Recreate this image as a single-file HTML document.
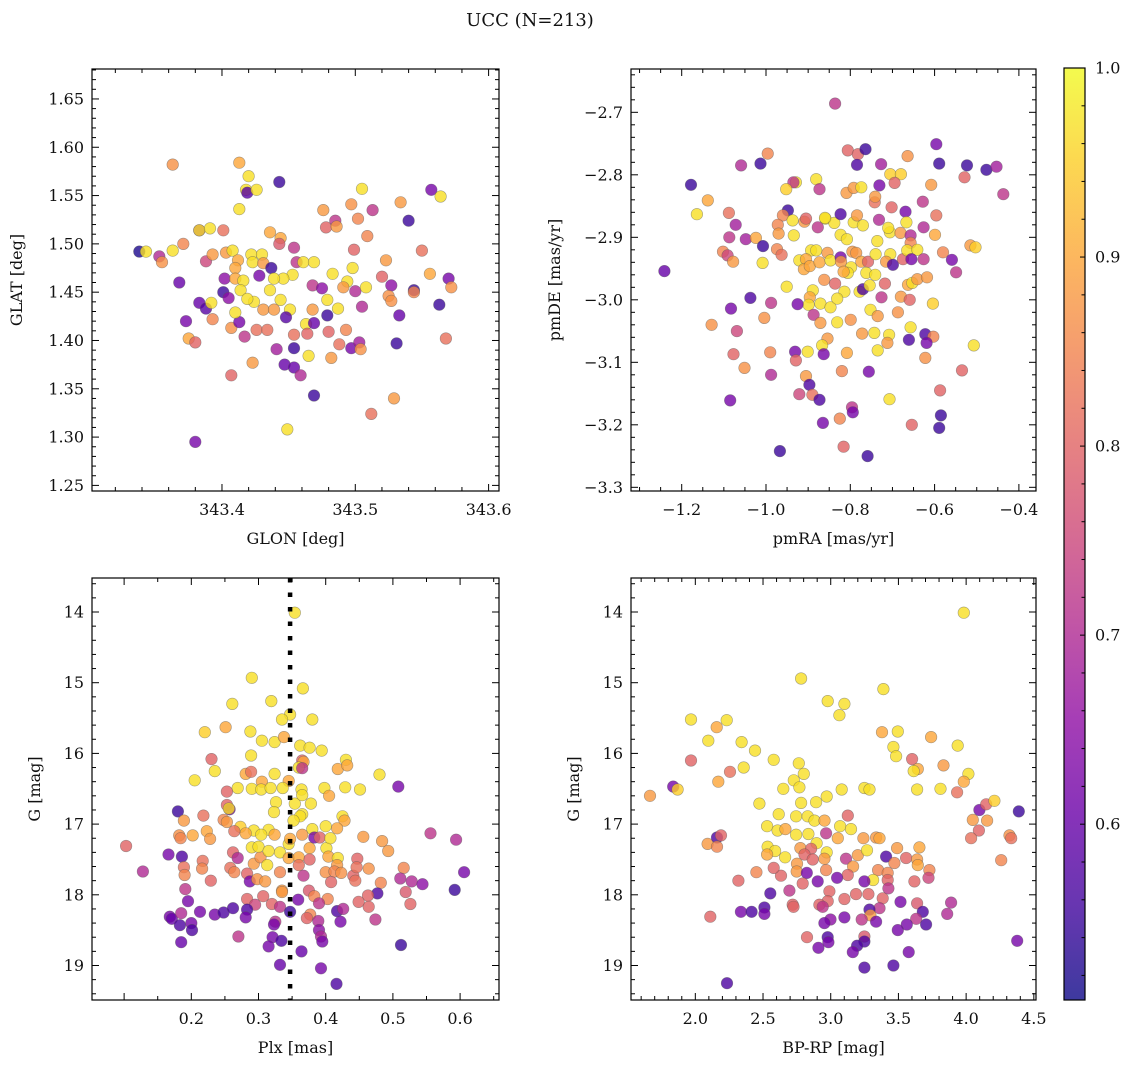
<!DOCTYPE html>
<html><head><meta charset="utf-8"><title>UCC (N=213)</title>
<style>
html,body{margin:0;padding:0;background:#fff;}
svg{display:block;}
text{font-family:"DejaVu Serif","Liberation Serif",serif;fill:#111;}
</style></head>
<body>
<svg id="fig" width="1136" height="1068" xmlns="http://www.w3.org/2000/svg">
<text x="530" y="26" font-size="18" text-anchor="middle">UCC (N=213)</text>
</svg>
<script>
// ---- Panel 1: GLON vs GLAT ----
const tlGlon=[343.338,343.343,343.353,343.355,343.363,343.363,343.371,343.368,343.373,343.375,343.380,343.380,343.383,343.383,343.391,343.401,343.383,343.388,343.392,343.393,343.388,343.393,343.402,343.401,343.405,343.403,343.408,343.412,343.410,343.410,343.413,343.420,343.418,343.419,343.426,343.413,343.407,343.413,343.410,343.417,343.407,343.423,343.416,343.414,343.422,343.430,343.423,343.431,343.428,343.437,343.424,343.419,343.431,343.426,343.434,343.436,343.444,343.443,343.443,343.454,343.456,343.453,343.446,343.439,343.436,343.444,343.439,343.451,343.448,343.454,343.441,343.454,343.447,343.454,343.459,343.449,343.469,343.465,343.463,343.464,343.469,343.461,343.469,343.468,343.475,343.468,343.479,343.479,343.480,343.482,343.488,343.476,343.478,343.485,343.486,343.483,343.494,343.487,343.491,343.493,343.497,343.503,343.504,343.498,343.499,343.500,343.502,343.505,343.497,343.509,343.513,343.505,343.508,343.520,343.523,343.527,343.525,343.527,343.533,343.531,343.529,343.512,343.534,343.540,343.544,343.544,343.550,343.556,343.557,343.564,343.563,343.570,343.572,343.568];
const tlGlat=[1.492,1.492,1.487,1.481,1.582,1.493,1.500,1.460,1.420,1.402,1.398,1.295,1.514,1.514,1.516,1.514,1.439,1.433,1.439,1.422,1.482,1.489,1.464,1.450,1.444,1.491,1.493,1.483,1.475,1.464,1.584,1.570,1.556,1.553,1.556,1.536,1.413,1.419,1.429,1.404,1.364,1.377,1.462,1.452,1.489,1.489,1.481,1.480,1.467,1.475,1.440,1.443,1.432,1.411,1.411,1.512,1.506,1.564,1.500,1.496,1.481,1.468,1.464,1.464,1.452,1.442,1.432,1.432,1.424,1.406,1.391,1.392,1.375,1.372,1.364,1.308,1.343,1.384,1.417,1.407,1.418,1.481,1.481,1.457,1.454,1.432,1.442,1.426,1.409,1.382,1.396,1.535,1.517,1.524,1.518,1.469,1.461,1.433,1.455,1.411,1.392,1.398,1.391,1.475,1.494,1.451,1.526,1.557,1.541,1.508,1.535,1.435,1.455,1.466,1.483,1.457,1.446,1.441,1.426,1.397,1.340,1.324,1.543,1.524,1.452,1.450,1.493,1.469,1.556,1.549,1.437,1.464,1.455,1.402];
const tlProb=[.52,.97,.70,.87,.87,.97,.85,.60,.62,.90,.80,.62,.62,.97,.97,.82,.60,.58,.97,.85,.75,.88,.65,.55,.65,.88,.97,.90,.90,.90,.90,.97,.97,.58,.97,.97,.87,.62,.97,.72,.80,.88,.97,.97,.97,.97,.97,.88,.62,.55,.97,.97,.88,.82,.82,.90,.90,.55,.78,.72,.72,.97,.97,.97,.97,.97,.88,.97,.58,.82,.68,.55,.60,.60,.70,.97,.55,.97,.97,.80,.60,.97,.97,.72,.65,.88,.97,.55,.80,.88,.82,.88,.80,.72,.88,.97,.97,.97,.88,.85,.62,.68,.87,.97,.80,.70,.85,.97,.87,.85,.72,.70,.97,.80,.88,.65,.87,.87,.60,.55,.88,.82,.88,.55,.55,.85,.82,.90,.62,.97,.55,.62,.87,.82];
const tlXTicks=["343.4","343.5","343.6"];
const tlYTicks=["1.25","1.30","1.35","1.40","1.45","1.50","1.55","1.60","1.65"];

// ---- Panel 2: pmRA vs pmDE ----
const trPmra=[-0.836,-1.178,-1.241,-1.164,-1.138,-1.059,-1.013,-0.996,-1.088,-1.072,-1.087,-1.102,-1.091,-1.078,-1.048,-1.024,-1.007,-1.008,-1.129,-1.083,-1.069,-1.037,-0.988,-1.004,-1.077,-1.051,-0.990,-0.988,-1.085,-0.967,-0.929,-0.935,-0.952,-0.881,-0.873,-0.948,-0.960,-0.972,-0.970,-0.974,-0.963,-0.937,-0.934,-0.909,-0.905,-0.877,-0.859,-0.838,-0.823,-0.809,-0.792,-0.774,-0.806,-0.782,-0.764,-0.784,-0.727,-0.731,-0.742,-0.741,-0.705,-0.680,-0.695,-0.664,-0.596,-0.589,-0.608,-0.628,-0.596,-0.523,-0.529,-0.477,-0.453,-0.437,-0.792,-0.770,-0.784,-0.732,-0.702,-0.669,-0.667,-0.706,-0.710,-0.681,-0.657,-0.626,-0.599,-0.736,-0.657,-0.823,-0.808,-0.860,-0.893,-0.881,-0.854,-0.921,-0.905,-0.910,-0.896,-0.873,-0.847,-0.823,-0.822,-0.795,-0.786,-0.798,-0.774,-0.758,-0.740,-0.705,-0.715,-0.699,-0.675,-0.665,-0.641,-0.655,-0.626,-0.580,-0.559,-0.549,-0.515,-0.503,-0.806,-0.816,-0.762,-0.741,-0.718,-0.862,-0.836,-0.814,-0.889,-0.896,-0.871,-0.847,-0.831,-0.899,-0.925,-0.887,-0.871,-0.951,-0.778,-0.770,-0.754,-0.726,-0.680,-0.659,-0.663,-0.653,-0.641,-0.618,-0.604,-0.752,-0.735,-0.687,-0.799,-0.831,-0.743,-0.657,-0.622,-0.603,-0.661,-0.619,-0.507,-0.622,-0.772,-0.708,-0.712,-0.854,-0.867,-0.863,-0.901,-0.931,-0.929,-0.808,-0.735,-0.820,-0.756,-0.905,-0.897,-0.921,-0.890,-0.873,-0.707,-0.796,-0.794,-0.865,-0.825,-0.816,-0.759,-0.654,-0.587,-0.585,-0.589,-0.535];
const trPmde=[-2.686,-2.816,-2.954,-2.863,-2.841,-2.785,-2.782,-2.766,-2.861,-2.880,-2.900,-2.923,-2.929,-2.939,-2.903,-2.901,-2.914,-2.941,-3.040,-3.014,-3.050,-2.997,-3.005,-3.029,-3.087,-3.109,-3.084,-3.120,-3.161,-3.242,-2.812,-2.812,-2.823,-2.807,-2.823,-2.857,-2.865,-2.880,-2.894,-2.919,-2.928,-2.873,-2.897,-2.875,-2.870,-2.884,-2.870,-2.877,-2.863,-2.829,-2.821,-2.820,-2.761,-2.767,-2.759,-2.784,-2.783,-2.817,-2.844,-2.835,-2.799,-2.799,-2.813,-2.770,-2.751,-2.782,-2.816,-2.843,-2.865,-2.785,-2.804,-2.792,-2.787,-2.831,-2.876,-2.881,-2.865,-2.872,-2.852,-2.859,-2.876,-2.892,-2.885,-2.893,-2.897,-2.884,-2.896,-2.906,-2.909,-2.896,-2.903,-2.869,-2.921,-2.921,-2.925,-2.937,-2.935,-2.951,-2.946,-2.940,-2.937,-2.932,-2.939,-2.923,-2.925,-2.948,-2.939,-2.939,-2.927,-2.927,-2.939,-2.944,-2.935,-2.921,-2.920,-2.935,-2.935,-2.924,-2.936,-2.956,-2.913,-2.916,-2.957,-2.955,-2.957,-2.960,-2.974,-2.968,-2.974,-2.987,-2.985,-2.996,-3.006,-3.012,-2.998,-3.008,-3.007,-3.024,-3.037,-2.979,-2.987,-2.983,-2.977,-2.996,-2.995,-3.000,-2.976,-2.973,-2.967,-2.964,-3.006,-3.016,-3.026,-3.020,-3.032,-3.036,-3.053,-3.044,-3.055,-3.059,-3.064,-3.069,-3.073,-3.093,-3.054,-3.056,-3.069,-3.062,-3.073,-3.087,-3.083,-3.083,-3.097,-3.085,-3.081,-3.114,-3.115,-3.122,-3.136,-3.151,-3.152,-3.160,-3.159,-3.172,-3.180,-3.197,-3.190,-3.235,-3.250,-3.200,-3.145,-3.185,-3.205,-3.113];
const trProb=[.72,.55,.60,.97,.90,.70,.55,.85,.82,.68,.72,.85,.75,.88,.68,.90,.55,.97,.87,.62,.75,.57,.72,.87,.80,.87,.85,.70,.62,.55,.97,.72,.95,.97,.72,.55,.85,.85,.88,.85,.82,.97,.97,.88,.80,.72,.97,.97,.57,.88,.88,.97,.80,.80,.55,.57,.68,.62,.82,.88,.95,.95,.80,.87,.62,.55,.88,.72,.82,.55,.80,.55,.68,.72,.97,.97,.88,.70,.80,.62,.97,.97,.97,.88,.70,.70,.90,.97,.85,.97,.97,.97,.97,.97,.88,.97,.90,.90,.90,.90,.97,.62,.88,.88,.88,.97,.90,.80,.97,.97,.88,.57,.80,.97,.97,.62,.72,.85,.62,.72,.88,.95,.97,.90,.97,.97,.80,.87,.80,.97,.97,.90,.97,.97,.97,.97,.62,.72,.88,.97,.97,.57,.97,.72,.88,.80,.90,.97,.88,.88,.95,.97,.88,.87,.87,.97,.97,.97,.57,.85,.57,.62,.97,.87,.88,.97,.88,.88,.97,.62,.97,.62,.80,.90,.97,.85,.62,.88,.57,.75,.82,.57,.97,.72,.62,.62,.85,.80,.55,.80,.80,.55,.55,.80];
const trXTicks=["−1.2","−1.0","−0.8","−0.6","−0.4"];
const trYTicks=["−3.3","−3.2","−3.1","−3.0","−2.9","−2.8","−2.7"];

// ---- Panel 3: Plx vs G ----
const blPlx=[.354,.290,.366,.261,.319,.347,.335,.380,.220,.251,.288,.305,.324,.338,.362,.376,.394,.289,.230,.235,.205,.281,.289,.305,.324,.365,.367,.360,.365,.345,.418,.430,.432,.480,.508,.269,.290,.304,.318,.336,.364,.398,.405,.429,.451,.253,.253,.257,.256,.180,.326,.323,.354,.365,.378,.365,.362,.352,.189,.218,.248,.253,.273,.293,.315,.304,.324,.281,.264,.380,.400,.425,.428,.417,.182,.202,.223,.228,.184,.103,.166,.186,.128,.189,.190,.191,.195,.168,.171,.185,.183,.200,.201,.185,.217,.216,.229,.213,.235,.248,.262,.270,.262,.269,.258,.264,.283,.287,.298,.310,.293,.303,.313,.290,.300,.315,.332,.345,.347,.345,.360,.365,.376,.383,.391,.401,.407,.404,.418,.417,.376,.360,.332,.335,.367,.400,.413,.423,.408,.441,.447,.446,.464,.444,.482,.516,.456,.484,.493,.556,.594,.606,.511,.528,.544,.519,.526,.592,.477,.463,.464,.449,.474,.512,.283,.295,.307,.320,.332,.335,.283,.281,.325,.323,.347,.321,.334,.315,.332,.359,.375,.383,.403,.390,.377,.372,.389,.390,.393,.395,.364,.393,.416,.417,.426,.422];
const blG=[14.01,14.93,15.08,15.30,15.26,15.45,15.52,15.52,15.70,15.63,15.69,15.82,15.84,15.77,15.89,15.92,15.96,16.03,16.08,16.25,16.38,16.29,16.26,16.40,16.29,16.10,16.12,16.20,16.21,16.39,16.22,16.09,16.17,16.30,16.47,16.49,16.50,16.51,16.49,16.49,16.51,16.49,16.60,16.48,16.51,16.54,16.73,16.79,16.78,16.82,16.69,16.83,16.71,16.59,16.71,16.86,16.89,16.95,16.95,16.88,16.94,16.97,17.04,17.09,17.08,17.15,17.15,17.13,17.10,17.07,17.03,16.89,16.95,17.06,17.16,17.16,17.10,17.21,17.20,17.31,17.43,17.46,17.67,17.61,17.72,17.92,18.09,18.31,18.34,18.26,18.43,18.40,18.50,18.67,17.52,17.63,17.80,18.24,18.28,18.25,18.19,18.59,17.40,17.48,17.62,17.68,17.70,17.81,17.78,17.81,17.56,17.47,17.58,17.33,17.32,17.38,17.40,17.28,17.21,17.48,17.47,17.15,17.34,17.19,17.19,17.34,17.20,17.46,17.48,17.58,17.50,17.58,17.68,17.94,17.73,17.68,17.67,17.69,17.82,17.73,17.49,17.61,17.63,17.80,17.83,17.62,17.18,17.24,17.38,17.13,17.22,17.68,17.77,17.81,17.85,17.96,18.13,17.93,17.98,18.01,18.17,18.10,18.35,18.71,18.06,18.14,18.02,18.13,18.17,17.96,18.21,18.32,18.38,18.42,18.24,18.60,18.65,18.73,18.99,18.07,17.94,18.02,18.06,18.12,18.28,18.33,18.37,18.50,18.59,18.66,18.80,19.04,19.26,18.23,18.20,18.38];
const blProb=[.97,.97,.97,.97,.97,.97,.97,.97,.95,.90,.97,.97,.97,.90,.97,.97,.97,.97,.80,.97,.97,.90,.82,.90,.97,.80,.90,.97,.72,.90,.90,.97,.90,.97,.62,.97,.97,.97,.97,.97,.97,.97,.90,.97,.97,.80,.80,.62,.97,.55,.97,.97,.97,.97,.97,.97,.97,.97,.88,.82,.85,.88,.95,.97,.97,.97,.90,.90,.82,.97,.97,.97,.90,.90,.87,.90,.90,.88,.85,.80,.62,.57,.70,.82,.85,.72,.62,.62,.60,.70,.57,.62,.57,.60,.82,.85,.80,.62,.62,.57,.57,.72,.80,.70,.82,.85,.80,.62,.87,.88,.88,.87,.97,.97,.97,.97,.97,.97,.90,.90,.90,.88,.90,.62,.80,.97,.97,.90,.97,.88,.80,.82,.85,.88,.72,.87,.85,.87,.80,.80,.80,.82,.87,.82,.85,.85,.88,.88,.88,.72,.70,.62,.70,.70,.65,.78,.80,.55,.57,.80,.80,.80,.72,.55,.80,.75,.80,.80,.72,.88,.57,.62,.72,.62,.55,.62,.57,.62,.60,.62,.78,.85,.85,.72,.85,.80,.70,.65,.70,.62,.60,.62,.57,.57,.70,.62];
const blXTicks=["0.2","0.3","0.4","0.5","0.6"];
const blPlxMedian=[0.347];

// ---- Panel 4: BP-RP vs G ----
const brBpRp=[3.983,2.781,3.389,2.978,3.101,3.064,1.968,2.232,2.158,2.096,2.342,2.441,2.579,2.357,1.968,2.256,2.170,1.837,1.869,1.665,3.379,3.495,3.463,3.483,3.741,3.938,3.601,3.643,3.613,3.833,4.017,3.983,3.933,3.638,3.811,2.764,2.801,2.727,2.769,2.650,3.081,3.249,3.286,2.473,2.616,2.781,2.892,2.970,2.744,2.830,2.880,2.954,3.126,3.069,3.150,2.966,3.052,2.530,2.608,2.665,2.744,2.835,2.896,2.970,2.534,2.589,2.663,2.530,2.776,2.855,2.806,2.867,2.953,2.751,2.749,3.113,3.200,3.241,3.268,3.335,3.360,3.409,3.490,3.655,3.557,3.638,3.643,3.470,3.350,3.165,3.313,3.421,3.729,3.722,3.618,3.421,3.249,3.126,3.047,2.966,2.904,2.823,2.793,2.633,2.579,2.451,2.318,2.554,2.695,2.719,2.725,2.990,2.978,2.916,3.101,3.187,3.278,3.384,3.426,3.515,3.638,3.889,3.860,3.680,3.631,3.704,3.562,3.495,3.360,3.286,3.293,3.335,3.229,3.101,2.998,2.953,2.941,2.825,2.978,2.983,2.909,3.249,3.249,3.195,3.163,3.576,3.249,3.463,2.234,2.111,2.337,2.416,2.510,2.510,2.091,2.160,2.190,2.160,4.098,4.148,4.209,4.049,4.155,4.094,4.037,4.389,4.320,4.333,4.259,4.377];
const brG=[14.01,14.94,15.09,15.26,15.30,15.46,15.52,15.53,15.63,15.82,15.84,15.96,16.09,16.20,16.10,16.26,16.40,16.47,16.51,16.60,15.70,15.69,15.91,16.04,15.77,15.89,16.08,16.22,16.25,16.17,16.29,16.40,16.55,16.51,16.50,16.14,16.29,16.38,16.48,16.50,16.51,16.49,16.51,16.71,16.86,16.70,16.69,16.61,16.89,16.89,16.95,16.95,16.88,17.03,17.07,17.13,17.20,17.03,17.09,17.07,17.15,17.14,17.27,17.40,17.32,17.38,17.47,17.43,17.34,17.35,17.43,17.50,17.49,17.56,17.67,17.49,17.44,17.20,17.37,17.19,17.20,17.46,17.34,17.33,17.48,17.50,17.58,17.55,17.65,17.60,17.79,17.69,17.65,17.76,17.81,17.79,17.81,17.72,17.76,17.65,17.81,17.69,17.84,17.73,17.62,17.68,17.80,17.98,17.94,18.14,18.17,17.95,18.09,18.14,18.06,17.99,17.99,18.05,17.91,18.10,18.12,18.11,18.27,18.24,18.34,18.42,18.42,18.50,18.19,18.21,18.29,18.38,18.35,18.32,18.35,18.40,18.17,18.60,18.60,18.67,18.75,18.59,18.66,18.72,18.81,18.81,19.03,19.00,19.25,18.31,18.24,18.24,18.18,18.27,17.28,17.19,17.16,17.32,16.80,16.72,16.67,16.94,16.95,17.09,17.20,16.82,17.16,17.20,17.51,18.65];
const brProb=[.97,.97,.97,.97,.97,.97,.97,.97,.90,.97,.97,.97,.97,.97,.80,.82,.90,.62,.95,.88,.90,.97,.97,.97,.90,.97,.80,.90,.97,.88,.97,.90,.82,.97,.97,.97,.97,.97,.97,.97,.97,.97,.97,.97,.97,.97,.97,.97,.97,.97,.97,.90,.80,.97,.97,.72,.90,.97,.97,.90,.97,.97,.97,.97,.97,.97,.97,.90,.88,.80,.80,.80,.88,.88,.88,.72,.88,.88,.97,.88,.90,.57,.88,.90,.80,.88,.90,.85,.85,.88,.97,.85,.85,.75,.80,.80,.62,.80,.62,.85,.62,.62,.80,.80,.80,.85,.80,.57,.72,.80,.80,.80,.80,.80,.80,.80,.80,.80,.72,.62,.78,.70,.70,.57,.72,.57,.62,.62,.72,.57,.88,.62,.72,.62,.65,.62,.72,.80,.57,.62,.62,.78,.57,.57,.62,.62,.57,.57,.57,.80,.62,.57,.57,.62,.88,.57,.80,.85,.62,.80,.95,.88,.88,.80,.82,.55,.87,.82,.85,.62];
const brXTicks=["2.0","2.5","3.0","3.5","4.0","4.5"];
const gTicks=["14","15","16","17","18","19"];
const cbTicks=["0.6","0.7","0.8","0.9","1.0"];

const NS="http://www.w3.org/2000/svg";
const svg=document.getElementById('fig');
const VMIN=0.507,VMAX=1.0;
const PL=[[13,8,135],[65,4,157],[106,0,168],[143,13,164],[177,42,144],[204,71,120],[225,100,98],[242,132,75],[252,166,54],[252,206,37],[240,249,33]];
function plasma(t){t=Math.max(0,Math.min(1,t));const f=t*10,i=Math.min(9,Math.floor(f)),u=f-i;const a=PL[i],b=PL[i+1];return 'rgb('+[0,1,2].map(k=>Math.round(a[k]+(b[k]-a[k])*u)).join(',')+')';}
function el(tag,attrs,parent){const e=document.createElementNS(NS,tag);for(const k in attrs)e.setAttribute(k,attrs[k]);(parent||svg).appendChild(e);return e;}
function txt(s,attrs,parent){const t=el('text',attrs,parent);t.textContent=s;return t;}
function num(s){return parseFloat(s.replace('−','-'));}
const FS=16;

function panel(cfg){
  const g=el('g',{});
  
  
  const sx=v=>cfg.x0+(v-cfg.xmin)/(cfg.xmax-cfg.xmin)*(cfg.x1-cfg.x0);
  const sy=cfg.invert?(v=>cfg.y0+(v-cfg.ymin)/(cfg.ymax-cfg.ymin)*(cfg.y1-cfg.y0)):(v=>cfg.y1-(v-cfg.ymin)/(cfg.ymax-cfg.ymin)*(cfg.y1-cfg.y0));
  const pts=el('g',{},g);
  
  
  const n=Math.min(cfg.xs.length,cfg.ys.length,cfg.ps.length);
  for(let i=0;i<n;i++){
    const c=el('circle',{cx:sx(cfg.xs[i]).toFixed(1),cy:sy(cfg.ys[i]).toFixed(1),r:5.8,fill:plasma((cfg.ps[i]-VMIN)/(VMAX-VMIN)),'fill-opacity':0.8,stroke:'rgba(90,90,90,0.55)','stroke-width':0.6},pts);
    
    
  }
  if(cfg.vline){
    const l=el('line',{x1:sx(cfg.vline[0]),x2:sx(cfg.vline[0]),y1:cfg.y0,y2:cfg.y1,stroke:'#000','stroke-width':4.5,'stroke-dasharray':'4.5 10'},g);
    
    
  }
  const fr=el('rect',{x:cfg.x0,y:cfg.y0,width:cfg.x1-cfg.x0,height:cfg.y1-cfg.y0,fill:'none',stroke:'#000','stroke-width':1.2},g);
  
  
  const tk=el('g',{stroke:'#000','stroke-width':1},g);
  
  
  const eps=1e-9;
  for(let v=Math.ceil(cfg.xmin/cfg.xminor)*cfg.xminor;v<=cfg.xmax+eps;v+=cfg.xminor){
    const x=sx(v);const major=Math.abs(v/cfg.xmajor-Math.round(v/cfg.xmajor))<1e-4;const L=major?7:4;
    el('line',{x1:x,x2:x,y1:cfg.y1,y2:cfg.y1-L},tk);el('line',{x1:x,x2:x,y1:cfg.y0,y2:cfg.y0+L},tk);
  }
  for(let v=Math.ceil(cfg.ymin/cfg.yminor)*cfg.yminor;v<=cfg.ymax+eps;v+=cfg.yminor){
    const y=sy(v);const major=Math.abs(v/cfg.ymajor-Math.round(v/cfg.ymajor))<1e-4;const L=major?7:4;
    el('line',{x1:cfg.x0,x2:cfg.x0+L,y1:y,y2:y},tk);el('line',{x1:cfg.x1,x2:cfg.x1-L,y1:y,y2:y},tk);
  }
  cfg.xt.forEach(s=>{const t=txt(s,{x:sx(num(s)),y:cfg.y1+24,'font-size':FS,'text-anchor':'middle'},g);
    
    });
  cfg.yt.forEach(s=>{const t=txt(s,{x:cfg.x0-8,y:sy(num(s))+5.5,'font-size':FS,'text-anchor':'end'},g);
    
    });
  const xt=txt(cfg.xlabel,{x:(cfg.x0+cfg.x1)/2,y:cfg.y1+53,'font-size':FS,'text-anchor':'middle'},g);
  
  
  const yx=cfg.x0-cfg.ylabOff,yy=(cfg.y0+cfg.y1)/2;
  const yt=txt(cfg.ylabel,{x:yx,y:yy,'font-size':FS,'text-anchor':'middle',transform:'rotate(-90 '+yx+' '+yy+')'},g);
  
  
}

panel({name:'glon-glat-panel',x0:92,x1:499,y0:69,y1:491,xmin:343.3025,xmax:343.6078,ymin:1.2442,ymax:1.681,xs:tlGlon,ys:tlGlat,ps:tlProb,xmajor:0.1,xminor:0.02,ymajor:0.05,yminor:0.01,xt:tlXTicks,yt:tlYTicks,xlabel:'GLON [deg]',ylabel:'GLAT [deg]',ylabOff:70});
panel({name:'pm-panel',x0:631,x1:1036,y0:69,y1:491,xmin:-1.3203,xmax:-0.3594,ymin:-3.3059,ymax:-2.6307,xs:trPmra,ys:trPmde,ps:trProb,xmajor:0.2,xminor:0.05,ymajor:0.1,yminor:0.02,xt:trXTicks,yt:trYTicks,xlabel:'pmRA [mas/yr]',ylabel:'pmDE [mas/yr]',ylabOff:71});
panel({name:'plx-g-panel',x0:92,x1:499,y0:578,y1:1000,xmin:0.0522,xmax:0.6579,ymin:13.519,ymax:19.488,invert:true,xs:blPlx,ys:blG,ps:blProb,xmajor:0.1,xminor:0.05,ymajor:1,yminor:0.2,xt:blXTicks,yt:gTicks,xlabel:'Plx [mas]',ylabel:'G [mag]',ylabOff:52,vline:blPlxMedian});
panel({name:'cmd-panel',x0:631,x1:1036,y0:578,y1:1000,xmin:1.525,xmax:4.516,ymin:13.519,ymax:19.488,invert:true,xs:brBpRp,ys:brG,ps:brProb,xmajor:0.5,xminor:0.1,ymajor:1,yminor:0.2,xt:brXTicks,yt:gTicks,xlabel:'BP-RP [mag]',ylabel:'G [mag]',ylabOff:52});

const cb=el('g',{});


const defs=el('defs',{},cb);
const lg=el('linearGradient',{id:'cbg',x1:0,y1:1,x2:0,y2:0},defs);
for(let i=0;i<=20;i++){el('stop',{offset:(i/20),'stop-color':plasma(i/20)},lg);}
const CX0=1064,CX1=1085,CY0=68,CY1=1000;
el('rect',{x:CX0,y:CY0,width:CX1-CX0,height:CY1-CY0,fill:'url(#cbg)','fill-opacity':0.8},cb);
el('rect',{x:CX0,y:CY0,width:CX1-CX0,height:CY1-CY0,fill:'none',stroke:'#000','stroke-width':1.2},cb);
const cy=v=>CY1-(v-VMIN)/(VMAX-VMIN)*(CY1-CY0);
for(let v=0.52;v<=1.0001;v+=0.02){const y=cy(v);const major=Math.abs(v*10-Math.round(v*10))<1e-4;el('line',{x1:CX1,x2:CX1-(major?5:3.5),y1:y,y2:y,stroke:'#000','stroke-width':1},cb);}
cbTicks.forEach(s=>{const t=txt(s,{x:1095,y:cy(num(s))+5.5,'font-size':FS},cb);
  
  });
</script>
</body></html>
